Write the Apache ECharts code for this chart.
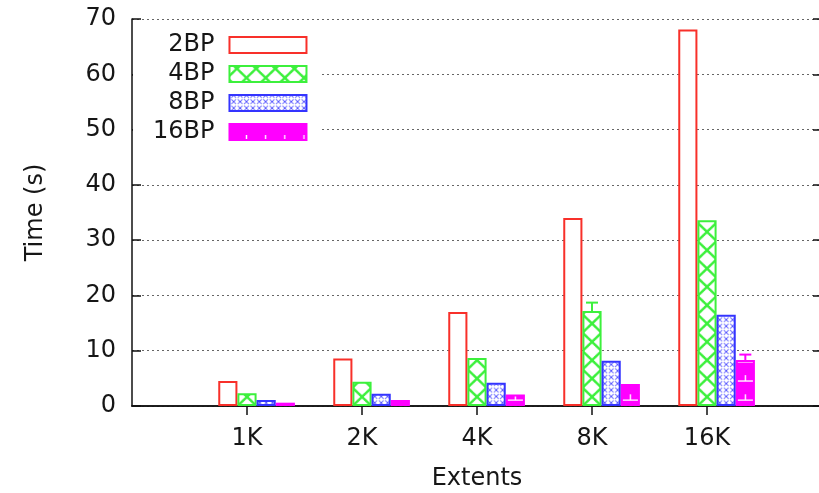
<!DOCTYPE html>
<html>
<head>
<meta charset="utf-8">
<script src="https://cdn.jsdelivr.net/npm/echarts@6/dist/echarts.min.js"></script>
<style>
  html, body { margin: 0; padding: 0; background: #fff; }
  #chart { width: 819px; height: 493px; }
</style>
</head>
<body>
<div id="chart"></div>
<script>
// Run time per extent count, one array per block-pointer configuration
const extents = ['1K', '2K', '4K', '8K', '16K'];
const seriesNames = ['2BP', '4BP', '8BP', '16BP'];
const time2BP = [4.5, 8.6, 17.0, 34.0, 68.1];
const time4BP = [2.3, 4.4, 8.7, 17.2, 33.6];
const time8BP = [1.1, 2.2, 4.2, 8.2, 16.5];
const time16BP = [0.6, 1.1, 2.1, 4.0, 8.3];
// upper end of the error bars (null = none drawn)
const err4BP = [null, null, null, 18.7, null];
const err16BP = [null, null, null, null, 9.3];
const yMin = 0, yMax = 70, yStep = 10;

const FONT = 'DejaVu Sans';
const TEXT = '#161616';
const FONT_SIZE = 24;
const W = 819, H = 493;
const PLOT_LEFT = 132, PLOT_RIGHT = -3, PLOT_TOP = 19, PLOT_BOTTOM = 87;
const SLOT = (W - PLOT_RIGHT - PLOT_LEFT) / 6;   // distance between groups
const BAR_W = SLOT / 6;
const COLORS = ['#f8302a', '#3cf03c', '#3434ff', '#ff00ff'];

// the tick labels sit on the 2nd..6th of seven evenly spaced slots
const slotLabels = [''].concat(extents, ['']);
const pad = arr => ['-'].concat(arr.map(v => v == null ? '-' : v), ['-']);
const innerSlot = i => i > 0 && i < slotLabels.length - 1;

function tile(w, h, draw) {
  const c = document.createElement('canvas');
  c.width = w; c.height = h;
  const g = c.getContext('2d');
  draw(g, w, h);
  return c;
}

// left edge of the first bar of each series, used to line up fill patterns
const firstBarLeft = k => PLOT_LEFT + SLOT + (k - 1.5) * BAR_W;
const baseY = H - PLOT_BOTTOM;

const crossTile = tile(23, 22, (g, w, h) => {
  g.fillStyle = '#fff'; g.fillRect(0, 0, w, h);
  g.strokeStyle = COLORS[1]; g.lineWidth = 3;
  g.beginPath();
  g.moveTo(0, 0); g.lineTo(w, h);
  g.moveTo(w, 0); g.lineTo(0, h);
  g.stroke();
});
const meshTile = tile(8, 8, (g, w, h) => {
  g.fillStyle = '#fff'; g.fillRect(0, 0, w, h);
  g.strokeStyle = '#7c7cff'; g.lineWidth = 1.3;
  g.beginPath();
  g.moveTo(1, 1); g.lineTo(7, 7);
  g.moveTo(7, 1); g.lineTo(1, 7);
  g.stroke();
  g.fillStyle = '#3434ff';
  g.fillRect(3.3, 3.3, 1.4, 1.4);
});
const solidTile = tile(23, 23, (g, w, h) => {
  g.fillStyle = COLORS[3]; g.fillRect(0, 0, w, h);
  g.strokeStyle = '#fff'; g.lineWidth = 1.6;
  g.beginPath();
  g.moveTo(2, 16); g.lineTo(21, 16);
  g.moveTo(11.5, 9); g.lineTo(11.5, 16);
  g.stroke();
});

const fills = [
  '#ffffff',
  { image: crossTile, repeat: 'repeat', x: firstBarLeft(1), y: baseY, scaleX: BAR_W / 23, scaleY: BAR_W / 23 },
  { image: meshTile, repeat: 'repeat', x: firstBarLeft(2), y: baseY, scaleX: BAR_W / 3 / 8, scaleY: BAR_W / 3 / 8 },
  { image: solidTile, repeat: 'repeat', x: firstBarLeft(3), y: baseY, scaleX: BAR_W / 23, scaleY: BAR_W / 23 }
];

const values = [time2BP, time4BP, time8BP, time16BP];
const errors = [null, err4BP, null, err16BP];

const barSeries = seriesNames.map((name, k) => ({
  name: name,
  type: 'bar',
  xAxisIndex: 2,
  yAxisIndex: 2,
  barWidth: BAR_W,
  barGap: '0%',
  data: pad(values[k]),
  itemStyle: { color: fills[k], borderColor: COLORS[k], borderWidth: 2 },
  emphasis: { disabled: true },
  z: 3
}));

const errData = [];
errors.forEach((errs, k) => {
  if (!errs) return;
  errs.forEach((hi, i) => {
    if (hi != null) errData.push([i + 1, values[k][i], hi, k]);
  });
});

const errSeries = {
  type: 'custom',
  xAxisIndex: 2,
  yAxisIndex: 2,
  silent: true,
  z: 4,
  data: errData,
  renderItem: function (params, api) {
    const k = api.value(3);
    const p0 = api.coord([api.value(0), api.value(1)]);
    const p1 = api.coord([api.value(0), api.value(2)]);
    const x = p0[0] + (k - 1.5) * BAR_W;
    const style = { stroke: COLORS[k], lineWidth: 2 };
    return {
      type: 'group',
      children: [
        { type: 'line', shape: { x1: x, y1: p0[1], x2: x, y2: p1[1] }, style: style },
        { type: 'line', shape: { x1: x - 6, y1: p1[1], x2: x + 6, y2: p1[1] }, style: style }
      ]
    };
  }
};

const axisLine = { show: true, lineStyle: { color: '#111', width: 1.5 } };
const yTick = { show: true, inside: true, length: 9, lineStyle: { color: '#111', width: 1.5 } };
const xTick = { show: true, inside: true, length: 9, interval: innerSlot, lineStyle: { color: '#111', width: 1.5 } };
const labelFont = { fontFamily: FONT, fontSize: FONT_SIZE, color: TEXT };

const chart = echarts.init(document.getElementById('chart'), null, { renderer: 'canvas' });
chart.setOption({
  animation: false,
  backgroundColor: '#fff',
  grid: [
    { left: PLOT_LEFT, right: PLOT_RIGHT, top: PLOT_TOP, bottom: PLOT_BOTTOM, containLabel: false, outerBoundsMode: 'none' },
    { left: PLOT_LEFT + BAR_W / 2, right: PLOT_RIGHT - BAR_W / 2, top: PLOT_TOP, bottom: PLOT_BOTTOM, containLabel: false, outerBoundsMode: 'none' }
  ],
  legend: {
    data: seriesNames,
    orient: 'vertical',
    left: PLOT_LEFT + 1,
    top: PLOT_TOP + 1,
    align: 'right',
    icon: 'rect',
    itemWidth: 77,
    itemHeight: 16,
    itemGap: 5,
    padding: [13, 12, 12, 20],
    backgroundColor: '#fff',
    selectedMode: false,
    textStyle: { fontFamily: FONT, fontSize: FONT_SIZE, color: TEXT, padding: [0, 10, 0, 0] }
  },
  xAxis: [
    {
      gridIndex: 0, type: 'category', data: slotLabels, boundaryGap: false, position: 'bottom',
      axisLine: axisLine, axisTick: xTick,
      axisLabel: Object.assign({ interval: 0, margin: 21 }, labelFont),
      splitLine: { show: false },
      name: 'Extents', nameLocation: 'middle', nameGap: 61,
      nameTextStyle: labelFont
    },
    {
      gridIndex: 0, type: 'category', data: slotLabels, boundaryGap: false, position: 'top',
      axisLine: axisLine, axisTick: xTick, axisLabel: { show: false }, splitLine: { show: false }
    },
    {
      gridIndex: 1, type: 'category', data: slotLabels, boundaryGap: false, show: false
    }
  ],
  yAxis: [
    {
      gridIndex: 0, type: 'value', min: yMin, max: yMax, interval: yStep, position: 'left',
      axisLine: axisLine, axisTick: yTick,
      axisLabel: Object.assign({ margin: 16 }, labelFont),
      splitLine: { show: true, lineStyle: { color: '#666', width: 1.2, type: [2, 3] } },
      name: 'Time (s)', nameLocation: 'middle', nameGap: 84, nameRotate: 90,
      nameTextStyle: labelFont
    },
    {
      gridIndex: 0, type: 'value', min: yMin, max: yMax, interval: yStep, position: 'right',
      axisLine: axisLine, axisTick: yTick, axisLabel: { show: false }, splitLine: { show: false }
    },
    {
      gridIndex: 1, type: 'value', min: yMin, max: yMax, interval: yStep, show: false
    }
  ],
  series: barSeries.concat([errSeries])
});
</script>
</body>
</html>
